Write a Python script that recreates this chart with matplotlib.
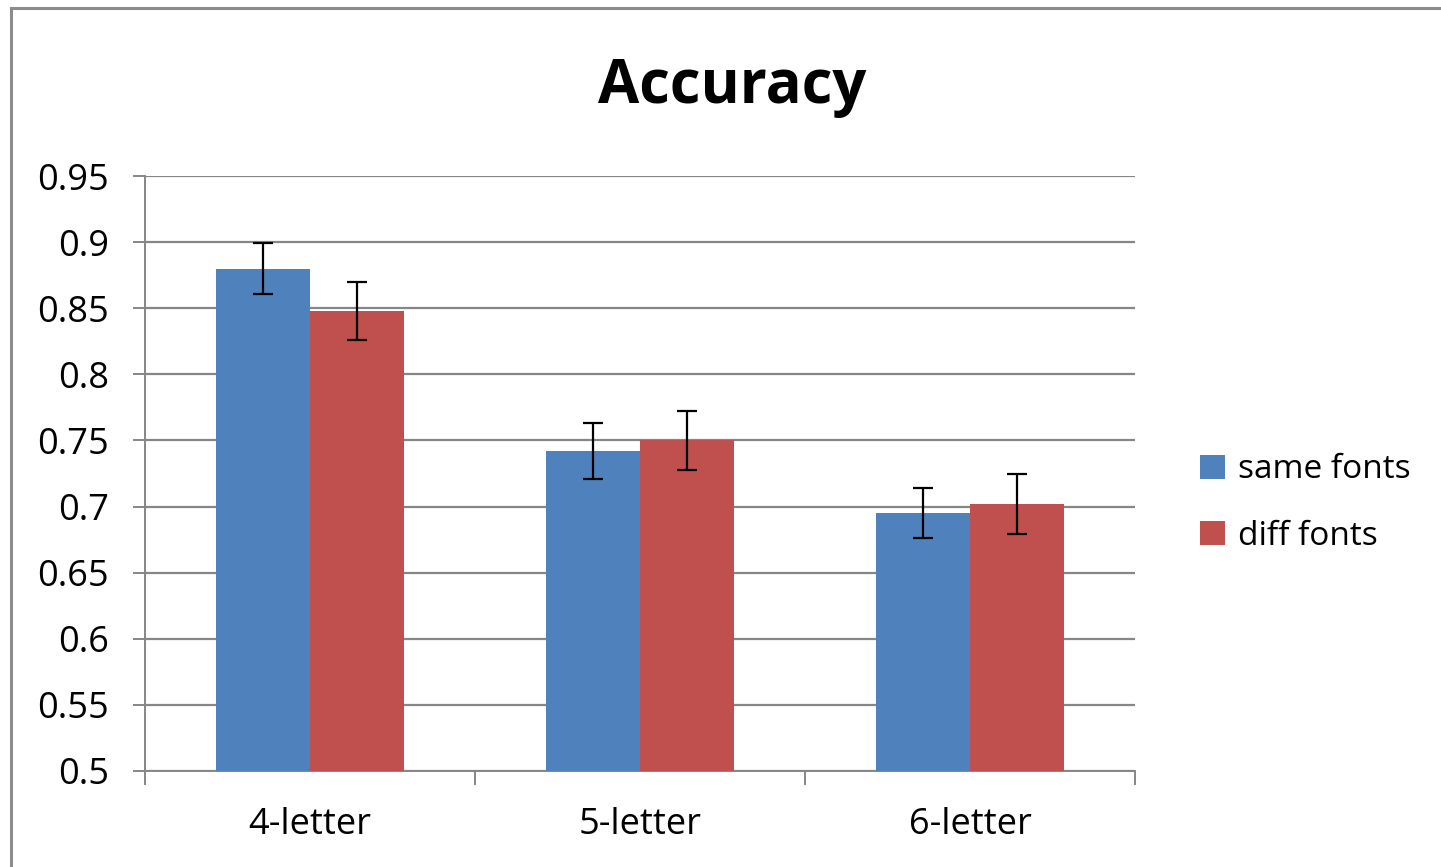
import numpy as np
import matplotlib
matplotlib.use("Agg")
import matplotlib.pyplot as plt
from matplotlib.patches import Rectangle, Patch

plt.rcParams['font.family'] = ['Open Sans', 'DejaVu Sans']

categories = ['4-letter', '5-letter', '6-letter']
series = ['same fonts', 'diff fonts']
same_vals = [0.880, 0.742, 0.695]
same_err = [0.019, 0.021, 0.019]
diff_vals = [0.848, 0.750, 0.702]
diff_err = [0.022, 0.022, 0.023]
colors = ['#4F81BD', '#C0504D']
yticks = [0.5, 0.55, 0.6, 0.65, 0.7, 0.75, 0.8, 0.85, 0.9, 0.95]
ytick_labels = ['0.5', '0.55', '0.6', '0.65', '0.7', '0.75', '0.8', '0.85', '0.9', '0.95']

W, H = 1441, 867
fig = plt.figure(figsize=(W / 100, H / 100), dpi=100)
ax = fig.add_axes([145 / W, 1 - 771 / H, 990 / W, 595 / H])

x = np.arange(len(categories))
bw = 0.285
grid_c = '#868686'

for i, (vals, errs) in enumerate([(same_vals, same_err), (diff_vals, diff_err)]):
    pos = x + (i - 0.5) * bw
    ax.bar(pos, np.array(vals) - 0.5, bottom=0.5, width=bw, color=colors[i], zorder=3)
    ax.errorbar(pos, vals, yerr=errs, fmt='none', ecolor='black',
                elinewidth=1.6, capsize=7, capthick=1.6, zorder=4)

ax.set_xlim(-0.5, 2.5)
ax.set_ylim(0.5, 0.95)
ax.set_yticks(yticks)
ax.set_yticklabels(ytick_labels)
ax.yaxis.grid(True, color=grid_c, linewidth=1.6, zorder=0)
ax.set_axisbelow(True)

ax.set_xticks(x)
ax.set_xticklabels(categories)
ax.set_xticks([-0.5, 0.5, 1.5, 2.5], minor=True)
ax.tick_params(axis='x', which='major', length=0, pad=26, labelsize=26)
ax.tick_params(axis='x', which='minor', length=10, width=1.4, color=grid_c, direction='out')
ax.tick_params(axis='y', length=9, width=1.4, color=grid_c, pad=17, labelsize=26)

for s in ['top', 'right']:
    ax.spines[s].set_visible(False)
for s in ['left', 'bottom']:
    ax.spines[s].set_color(grid_c)
    ax.spines[s].set_linewidth(1.4)

fig.text(732 / W, 1 - 87 / H, 'Accuracy', ha='center', va='center',
         fontsize=43, fontweight='bold')

handles = [Patch(facecolor=c, edgecolor='none') for c in colors]
fig.legend(handles, series, loc='center left', bbox_to_anchor=(1170 / W, 1 - 503 / H),
           frameon=False, fontsize=24, handlelength=0.75, handleheight=0.75,
           handletextpad=0.4, labelspacing=1.0)

fig.add_artist(Rectangle((11 / W, -0.05), 1.1, (1 - 8 / H) + 0.05, transform=fig.transFigure,
                         fill=False, edgecolor='#8c8c8c', linewidth=2.2))

fig.savefig('out.png', dpi=100)
